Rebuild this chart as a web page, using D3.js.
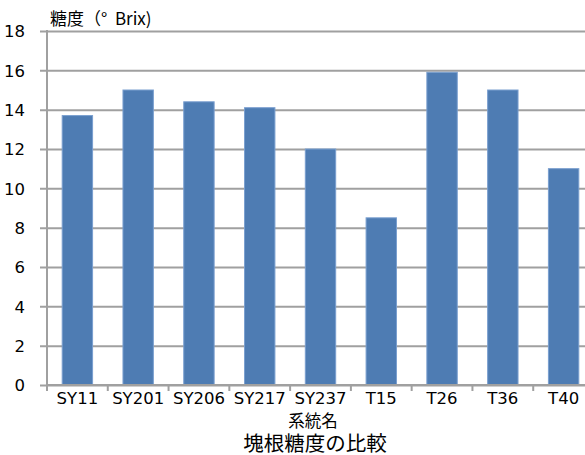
<!DOCTYPE html>
<html>
<head>
<meta charset="utf-8">
<script src="https://cdn.jsdelivr.net/npm/d3@7"></script>
<style>
  body { margin: 0; background: #fff; }
  text { font-family: "DejaVu Sans", "Noto Sans CJK JP", sans-serif; fill: #000; }
  .jp { font-family: "Noto Sans CJK JP", sans-serif; }
</style>
</head>
<body>
<div id="chart"></div>
<script>
// data
const lines = ["SY11", "SY201", "SY206", "SY217", "SY237", "T15", "T26", "T36", "T40"];
const brix = [13.7, 15.0, 14.4, 14.1, 12.0, 8.5, 15.9, 15.0, 11.0];
const yTicks = [0, 2, 4, 6, 8, 10, 12, 14, 16, 18];

const W = 585, H = 455;
const plotLeft = 47, plotRight = 594, plotTop = 31, plotBottom = 385;

const svg = d3.select("#chart").append("svg")
    .attr("width", W)
    .attr("height", H);

const x = d3.scaleBand()
    .domain(lines)
    .range([plotLeft, plotRight])
    .paddingInner(0.5)
    .paddingOuter(0.25);

const y = d3.scaleLinear()
    .domain([0, 18])
    .range([plotBottom, plotTop]);

// horizontal gridlines + y labels
const yAxis = svg.append("g")
    .attr("transform", `translate(${plotLeft},0)`)
    .call(d3.axisLeft(y).tickValues(yTicks).tickSize(-(plotRight - plotLeft)).tickPadding(0));
yAxis.select(".domain").remove();
yAxis.selectAll(".tick line")
    .attr("x1", -7)
    .attr("stroke", "#a0a0a0")
    .attr("stroke-width", 2);
yAxis.selectAll(".tick text")
    .attr("x", -22)
    .attr("dy", "0.36em")
    .style("font-size", "16.5px");

// bars
svg.selectAll(".bar")
    .data(lines)
  .enter().append("rect")
    .attr("class", "bar")
    .attr("x", d => x(d))
    .attr("y", (d, i) => y(brix[i]))
    .attr("width", x.bandwidth())
    .attr("height", (d, i) => y(0) - y(brix[i]))
    .attr("fill", "#4e7cb3")
    .attr("stroke", "#7a9fcf")
    .attr("stroke-width", 1);

// y axis line
svg.append("line")
    .attr("x1", plotLeft).attr("x2", plotLeft)
    .attr("y1", plotTop - 1).attr("y2", plotBottom + 6)
    .attr("stroke", "#a0a0a0")
    .attr("stroke-width", 2);

// x axis line and category boundary ticks
svg.append("line")
    .attr("x1", plotLeft).attr("x2", plotRight)
    .attr("y1", plotBottom).attr("y2", plotBottom)
    .attr("stroke", "#a0a0a0")
    .attr("stroke-width", 2);

const step = x.step();
svg.selectAll(".xtick")
    .data(d3.range(lines.length + 1))
  .enter().append("line")
    .attr("class", "xtick")
    .attr("x1", i => x(lines[0]) - step * 0.25 + i * step)
    .attr("x2", i => x(lines[0]) - step * 0.25 + i * step)
    .attr("y1", plotBottom)
    .attr("y2", plotBottom + 6)
    .attr("stroke", "#a0a0a0")
    .attr("stroke-width", 2);

// x labels
svg.selectAll(".xlabel")
    .data(lines)
  .enter().append("text")
    .attr("class", "xlabel")
    .attr("x", d => x(d) + x.bandwidth() / 2)
    .attr("y", 404)
    .attr("text-anchor", "middle")
    .style("font-size", "16.5px")
    .text(d => d);

// y axis title
svg.append("text")
    .attr("class", "jp")
    .attr("x", 50)
    .attr("y", 25)
    .style("font-size", "17px")
    .text("糖度（°\u00a0\u00a0Brix)");

// x axis title
svg.append("text")
    .attr("class", "jp")
    .attr("x", 313)
    .attr("y", 427)
    .attr("text-anchor", "middle")
    .style("font-size", "16.5px")
    .text("系統名");

// chart title
svg.append("text")
    .attr("class", "jp")
    .attr("x", 315)
    .attr("y", 451)
    .attr("text-anchor", "middle")
    .style("font-size", "20.5px")
    .text("塊根糖度の比較");
</script>
</body>
</html>
